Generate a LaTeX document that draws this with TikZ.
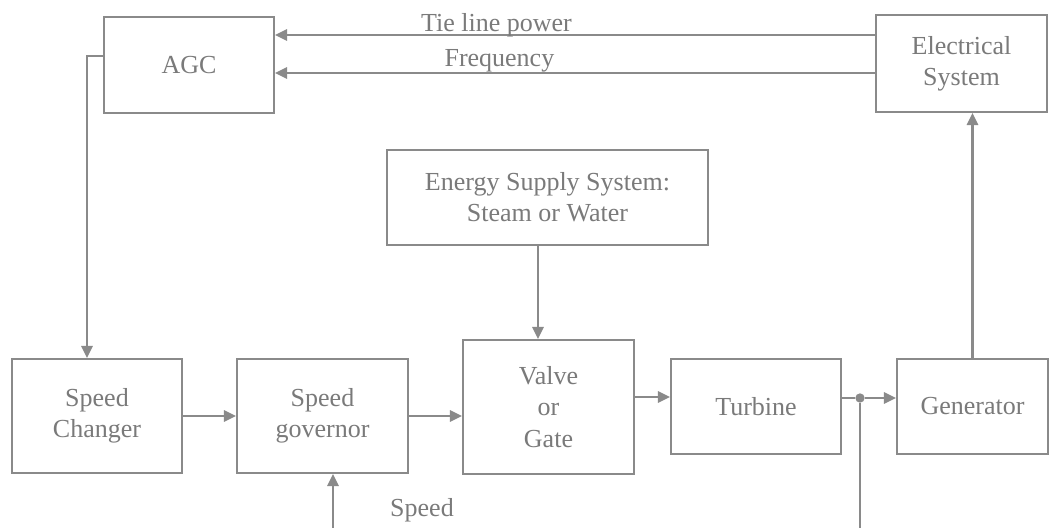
\documentclass[tikz,border=0pt]{standalone}
\usepackage{fontspec}
\setmainfont{Liberation Serif}
\usepackage{tikz}
\usetikzlibrary{arrows.meta,calc}
\definecolor{wire}{HTML}{8A8A8A}
\definecolor{ink}{HTML}{7A7A7A}
\tikzset{
  block/.style={draw=wire, line width=1.6pt, fill=white, align=center, text=ink, inner sep=0pt, font=\fontsize{19.5}{23.5}\selectfont},
  tagtext/.style={text=ink, inner sep=0pt, font=\fontsize{19.5}{23.5}\selectfont},
  flowarrow/.style={-{Triangle[length=9pt,width=8.5pt]}, line width=1.6pt, draw=wire},
  plainline/.style={line width=1.6pt, draw=wire},
  tapdot/.style={circle, fill=wire, inner sep=0pt, minimum size=7pt}
}
\begin{document}
\begin{tikzpicture}[x=0.75pt, y=-0.75pt]
  \useasboundingbox (0,0) rectangle (1058,528);
  \node[block, minimum width=127.5pt, minimum height=72pt] (agc) at (189,65) {AGC};
  \node[block, minimum width=128.25pt, minimum height=72.75pt] (elec) at (961.5,63.5) {Electrical\\System};
  \node[block, minimum width=240.75pt, minimum height=71.25pt] (energy) at (547.5,197.5) {Energy Supply System:\\Steam or Water};
  \node[block, minimum width=127.5pt, minimum height=85.5pt] (changer) at (97,416) {Speed\\Changer};
  \node[block, minimum width=128.25pt, minimum height=85.5pt] (governor) at (322.5,416) {Speed\\governor};
  \node[block, minimum width=128.25pt, minimum height=100.5pt] (valve) at (548.5,407) {Valve\\or\\Gate};
  \node[block, minimum width=127.5pt, minimum height=71.25pt] (turbine) at (756,406.5) {Turbine};
  \node[block, minimum width=113.25pt, minimum height=71.25pt] (generator) at (972.5,406.5) {Generator};
  \node[tapdot] (tap) at (860,398) {};
  \node[tagtext, anchor=base] (speedtag) at (422,516) {Speed};
  \coordinate (tieline) at ($(elec.west)+(0,-28.5)$);
  \coordinate (freqline) at ($(elec.west)+(0,9.5)$);
  \coordinate (agcout) at ($(agc.west)+(0,-9)$);
  \coordinate (steam) at ($(energy.south)+(-9.5,0)$);
  \coordinate (valveout) at ($(valve.east)+(0,-10)$);
  \coordinate (speedin) at (333,528);
  \coordinate (speedout) at (860,528);
  \draw[flowarrow] (tieline) -- (agc.east |- tieline)
    node[pos=0.631, anchor=base, yshift=2.25pt, tagtext] {Tie line power};
  \draw[flowarrow] (freqline) -- (agc.east |- freqline)
    node[pos=0.626, anchor=base, yshift=4.5pt, tagtext] {Frequency};
  \draw[flowarrow] (agcout) -| ($(changer.north)+(-10,0)$);
  \draw[flowarrow] (changer) -- (governor);
  \draw[flowarrow] (governor) -- (valve.west |- governor);
  \draw[flowarrow] (steam) -- (valve.north -| steam);
  \draw[flowarrow] (valveout) -- (turbine.west |- valveout);
  \draw[plainline] (turbine.east |- tap) -- (tap);
  \draw[flowarrow] (tap) -- (generator.west |- tap);
  \draw[plainline] (tap) -- (speedout);
  \draw[flowarrow] (speedin) -- (governor.south -| speedin);
  \draw[flowarrow] (generator.north) -- (elec.south -| generator.north);
\end{tikzpicture}
\end{document}
